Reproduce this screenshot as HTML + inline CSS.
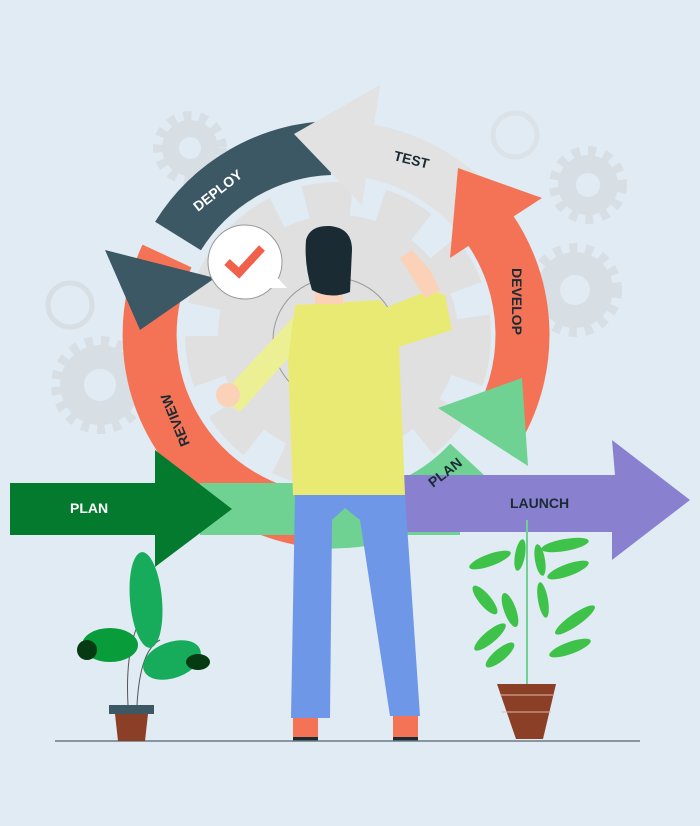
<!DOCTYPE html>
<html><head><meta charset="utf-8"><style>
html,body{margin:0;padding:0;background:#e0ebf3;}
svg{display:block}
text{font-family:"Liberation Sans",sans-serif;font-weight:bold;}
</style></head><body>
<svg width="700" height="826" viewBox="0 0 700 826" xmlns="http://www.w3.org/2000/svg">
<rect width="700" height="826" fill="#e0ebf3"/>
<g fill="#d8dfe4">
<circle cx="190" cy="148" r="28"/><circle cx="588" cy="185" r="30"/><circle cx="575" cy="290" r="38"/><circle cx="100" cy="385" r="40"/>
</g>
<circle cx="70" cy="305" r="22" fill="none" stroke="#d8dfe4" stroke-width="5"/><circle cx="515" cy="135" r="22" fill="none" stroke="#dbe3e9" stroke-width="5"/>
<g fill="none" stroke="#d8dfe4" stroke-width="10" stroke-dasharray="8 8">
<circle cx="190" cy="148" r="32"/><circle cx="588" cy="185" r="34"/><circle cx="575" cy="290" r="42"/><circle cx="100" cy="385" r="44"/>
</g>
<g fill="#e0ebf3"><circle cx="190" cy="148" r="11"/><circle cx="588" cy="185" r="12"/><circle cx="575" cy="290" r="15"/><circle cx="100" cy="385" r="16"/></g>
<g>
<circle cx="338" cy="335" r="136" fill="none" stroke="#e0e0e0" stroke-width="34" stroke-dasharray="46 30"/>
<circle cx="338" cy="335" r="120" fill="#e0e0e0"/>
<circle cx="335" cy="340" r="62" fill="none" stroke="#999" stroke-width="1"/>
</g>
<g fill="none" stroke-width="54">
<path d="M167 256 A187 187 0 0 0 320 521" stroke="#f47356"/>
<path d="M330 148 A187 187 0 0 0 178 236" stroke="#3c5864"/>
<path d="M489 228 A187 187 0 0 0 352 149" stroke="#e2e2e2"/>
<path d="M494 434 A187 187 0 0 0 489 228" stroke="#f47356"/>
<path d="M320 521 A187 187 0 0 0 470 462" stroke="#6fd293"/>
</g>
<polygon points="105,250 215,278 140,330" fill="#3c5864"/>
<polygon points="380,85 362,205 294,134" fill="#e2e2e2"/>
<polygon points="450,258 542,198 458,168" fill="#f47356"/>
<polygon points="438,408 528,466 522,378" fill="#6fd293"/>
<rect x="200" y="483" width="260" height="52" fill="#6fd293"/>
<polygon points="400,475 615,475 612,440 690,500 612,560 612,532 405,532" fill="#8a80d0"/>
<polygon points="10,483 155,483 155,450 232,509 155,567 155,535 10,535" fill="#047a2e"/>
<text x="0" y="0" font-size="14" fill="#fff" transform="translate(198,212) rotate(-38)">DEPLOY</text>
<text x="0" y="0" font-size="14" fill="#1b2b33" transform="translate(393,160) rotate(14)">TEST</text>
<text x="0" y="0" font-size="14" fill="#1b2b33" transform="translate(512,268) rotate(90)">DEVELOP</text>
<text x="0" y="0" font-size="14" fill="#1b2b33" transform="translate(190,444) rotate(-112)">REVIEW</text>
<text x="0" y="0" font-size="14" fill="#1b2b33" transform="translate(433,488) rotate(-38)">PLAN</text>
<text x="70" y="513" font-size="14" fill="#fff">PLAN</text>
<text x="510" y="508" font-size="14" fill="#1b2b33">LAUNCH</text>
<circle cx="245" cy="262" r="37" fill="#fff" stroke="#999" stroke-width="1"/>
<polygon points="268,288 287,288 272,272" fill="#fff"/>
<polyline points="227,262 239,273 262,248" fill="none" stroke="#f0604a" stroke-width="8"/>
<g>
<polygon points="300,310 235,380 222,400 240,412 300,345" fill="#edef94"/>
<circle cx="228" cy="395" r="12" fill="#fbd2b8"/>
<polygon points="380,310 430,290 445,295 452,330 395,348" fill="#e9ea74"/>
<polygon points="400,258 412,250 430,270 440,290 425,298" fill="#fbd2b8"/>
<polygon points="295,305 380,300 398,320 405,495 293,495 288,360" fill="#e9ea74"/>
<polygon points="295,495 405,495 420,716 390,716 360,520 345,508 332,520 330,718 291,718" fill="#6f97e8"/>
<rect x="293" y="718" width="25" height="22" fill="#f47356"/>
<rect x="393" y="716" width="25" height="24" fill="#f47356"/>
<rect x="293" y="737" width="25" height="4" fill="#1b2b33"/>
<rect x="393" y="737" width="25" height="4" fill="#1b2b33"/>
<rect x="315" y="282" width="28" height="22" fill="#fbd2b8"/>
<path d="M306 240 Q310 225 330 226 Q352 228 352 250 L350 292 Q330 300 312 290 Q304 265 306 240 Z" fill="#1b2b33"/>
</g>
<line x1="55" y1="741" x2="640" y2="741" stroke="#6b7b85" stroke-width="1.5"/>
<g>
<path d="M128 705 Q125 650 140 620" stroke="#555" fill="none"/>
<path d="M137 705 Q140 650 160 640" stroke="#555" fill="none"/>
<ellipse cx="146" cy="600" rx="16" ry="48" fill="#17ac5c" transform="rotate(-5 146 600)"/>
<ellipse cx="110" cy="645" rx="28" ry="17" fill="#089d3a"/>
<ellipse cx="87" cy="650" rx="10" ry="10" fill="#063a12"/>
<ellipse cx="172" cy="660" rx="30" ry="18" fill="#17ac5c" transform="rotate(-20 172 660)"/>
<ellipse cx="198" cy="662" rx="12" ry="8" fill="#063a12"/>
<rect x="109" y="705" width="45" height="9" fill="#3c5864"/>
<polygon points="115,714 148,714 145,741 118,741" fill="#8b3f26"/>
</g>
<g>
<line x1="527" y1="520" x2="527" y2="685" stroke="#6fd293" stroke-width="2"/>
<g fill="#3fc24a">
<ellipse cx="490" cy="560" rx="22" ry="6" transform="rotate(-20 490 560)"/>
<ellipse cx="565" cy="545" rx="24" ry="6" transform="rotate(-10 565 545)"/>
<ellipse cx="568" cy="570" rx="22" ry="6" transform="rotate(-20 568 570)"/>
<ellipse cx="485" cy="600" rx="18" ry="6" transform="rotate(50 485 600)"/>
<ellipse cx="510" cy="610" rx="18" ry="6" transform="rotate(70 510 610)"/>
<ellipse cx="575" cy="620" rx="24" ry="6" transform="rotate(-35 575 620)"/>
<ellipse cx="490" cy="637" rx="20" ry="6" transform="rotate(-40 490 637)"/>
<ellipse cx="570" cy="648" rx="22" ry="6" transform="rotate(-20 570 648)"/>
<ellipse cx="500" cy="655" rx="18" ry="6" transform="rotate(-40 500 655)"/>
<ellipse cx="543" cy="600" rx="18" ry="5" transform="rotate(80 543 600)"/>
<ellipse cx="540" cy="560" rx="16" ry="5" transform="rotate(80 540 560)"/>
<ellipse cx="520" cy="555" rx="16" ry="5" transform="rotate(100 520 555)"/>
</g>
<polygon points="497,684 556,684 543,739 516,739" fill="#8b3f26"/>
<line x1="500" y1="695" x2="553" y2="695" stroke="#e0b8a8"/>
<line x1="502" y1="712" x2="551" y2="712" stroke="#e0b8a8"/>
</g>
</svg>
</body></html>
